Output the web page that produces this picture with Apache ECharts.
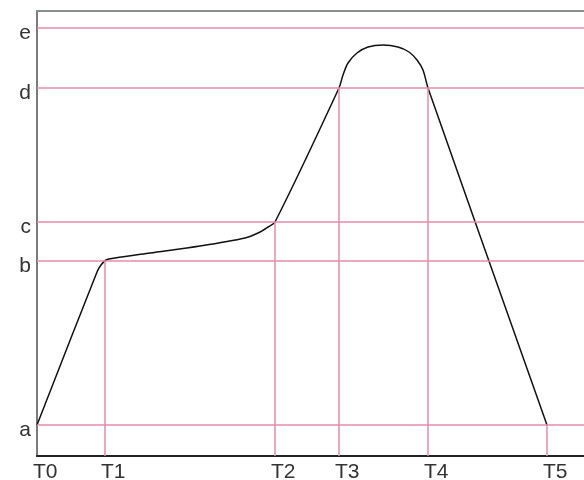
<!DOCTYPE html>
<html>
<head>
<meta charset="utf-8">
<script src="https://cdn.jsdelivr.net/npm/echarts@6/dist/echarts.min.js"></script>
<style>
  html, body { margin: 0; padding: 0; background: #fff; }
  #chart { width: 584px; height: 480px; }
</style>
</head>
<body>
<div id="chart"></div>
<script>
// 时间刻度 (x) 和 水平等级 (y)
var timeNames = ['T0', 'T1', 'T2', 'T3', 'T4', 'T5'];
var timeValues = [0, 68, 238, 302, 391, 510];
var guideTops = [null, 195, 234, 368, 368, 31]; // 竖线画到曲线为止

var levelNames = ['a', 'b', 'c', 'd', 'e'];
var levelValues = [31, 195, 234, 368, 428];

// 曲线上的点 [x, y]
var curveX = [0, 60, 64, 69, 78, 113, 163, 208, 221, 231, 238,
  302, 306, 311, 320, 331, 346, 361, 372, 380, 386, 391, 510];
var curveY = [31, 184, 191, 196, 198, 203, 210, 218, 223, 229, 234,
  368, 381, 393, 403, 409, 411, 409, 404, 396, 386, 368, 31];

var pink = '#e68aad';
var curveData = curveX.map(function (x, i) { return [x, curveY[i]]; });

var vLines = [];
timeValues.forEach(function (t, i) {
  if (guideTops[i] !== null) {
    vLines.push([{ coord: [t, 0] }, { coord: [t, guideTops[i]] }]);
  }
});
var hLines = levelValues.map(function (v) { return { yAxis: v }; });

var chart = echarts.init(document.getElementById('chart'));
var option = {
  animation: false,
  grid: { left: 37, right: 0, top: 11, bottom: 24, outerBoundsMode: 'none', containLabel: false },
  xAxis: [
    {
      type: 'value', min: 0, max: 547,
      axisLine: { show: true, lineStyle: { color: '#222', width: 2 } },
      axisTick: { show: false },
      splitLine: { show: false },
      axisLabel: {
        customValues: timeValues,
        formatter: function (v) { return timeNames[timeValues.indexOf(v)]; },
        align: 'left', margin: 6,
        color: '#333', fontSize: 21,
        fontFamily: 'Liberation Sans Narrow, Liberation Sans, sans-serif',
        padding: [0, 0, 0, -4]
      }
    },
    {
      type: 'value', min: 0, max: 547, position: 'top',
      axisLine: { show: true, lineStyle: { color: '#8a8f8f', width: 2 } },
      axisTick: { show: false }, axisLabel: { show: false }, splitLine: { show: false }
    }
  ],
  yAxis: {
    type: 'value', min: 0, max: 445,
    axisLine: { show: true, lineStyle: { color: '#7a7a7a', width: 2 } },
    axisTick: { show: false },
    splitLine: { show: false },
    axisLabel: {
      customValues: levelValues,
      formatter: function (v) { return levelNames[levelValues.indexOf(v)]; },
      margin: 6, color: '#333', fontSize: 21,
      fontFamily: 'Liberation Sans Narrow, Liberation Sans, sans-serif',
      verticalAlign: 'top', lineHeight: 10
    }
  },
  series: [
    {
      type: 'line',
      data: curveData,
      smooth: 0.3,
      showSymbol: false,
      lineStyle: { color: '#111', width: 1.5 },
      markLine: {
        silent: true,
        symbol: 'none',
        label: { show: false },
        lineStyle: { color: pink, width: 1.5, type: 'solid' },
        data: hLines.concat(vLines)
      },
      z: 3
    }
  ]
};
chart.setOption(option);
</script>
</body>
</html>
